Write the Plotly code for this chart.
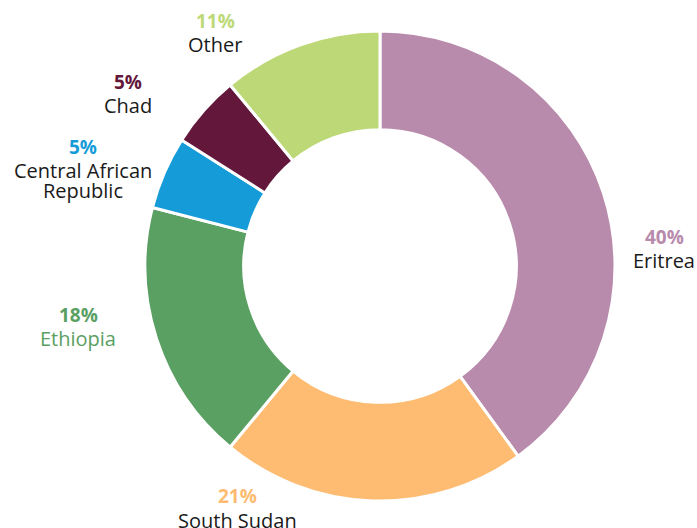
import plotly.graph_objects as go

countries = ["Eritrea", "South Sudan", "Ethiopia", "Central African<br>Republic", "Chad", "Other"]
shares = [40, 21, 18, 5, 5, 11]
colors = ["#b88aac", "#fdbc71", "#5aa062", "#159cd8", "#63183b", "#bdd977"]
name_colors = ["#1a1a1a", "#1a1a1a", "#5aa062", "#1a1a1a", "#1a1a1a", "#1a1a1a"]

W, H = 697, 528
# label layout in pixels: (x centre, y of percent line, y of first name line)
label_pos = [(664, 237, 260), (237, 496, 520), (78, 315, 338),
             (83, 147, 170), (128, 82, 105), (215, 21, 45)]
NAME_PITCH = 20

fig = go.Figure(go.Pie(
    values=shares,
    labels=countries,
    marker=dict(colors=colors, line=dict(color="white", width=3)),
    hole=0.58,
    sort=False,
    direction="clockwise",
    rotation=0,
    textinfo="none",
    hoverinfo="label+percent",
    showlegend=False,
    domain=dict(x=[145 / W, 615 / W], y=[1 - 501 / H, 1 - 31 / H]),
))

for name, val, col, ncol, (px, py_pct, py_name) in zip(countries, shares, colors, name_colors, label_pos):
    fig.add_annotation(
        x=px / W, y=1 - py_pct / H, xref="paper", yref="paper",
        text=f"<b>{val}%</b>", showarrow=False,
        xanchor="center", yanchor="middle",
        font=dict(family="Open Sans, sans-serif", size=19, color=col),
    )
    for i, line in enumerate(name.split("<br>")):
        fig.add_annotation(
            x=px / W, y=1 - (py_name + i * NAME_PITCH) / H, xref="paper", yref="paper",
            text=line, showarrow=False,
            xanchor="center", yanchor="middle",
            font=dict(family="Open Sans, sans-serif", size=20, color=ncol),
        )

fig.update_layout(
    width=W, height=H,
    margin=dict(l=0, r=0, t=0, b=0),
    paper_bgcolor="white", plot_bgcolor="white",
)

fig.write_html("out.html", config={"displayModeBar": False},
               post_script="document.body.style.margin='0';document.body.style.overflow='hidden';")
